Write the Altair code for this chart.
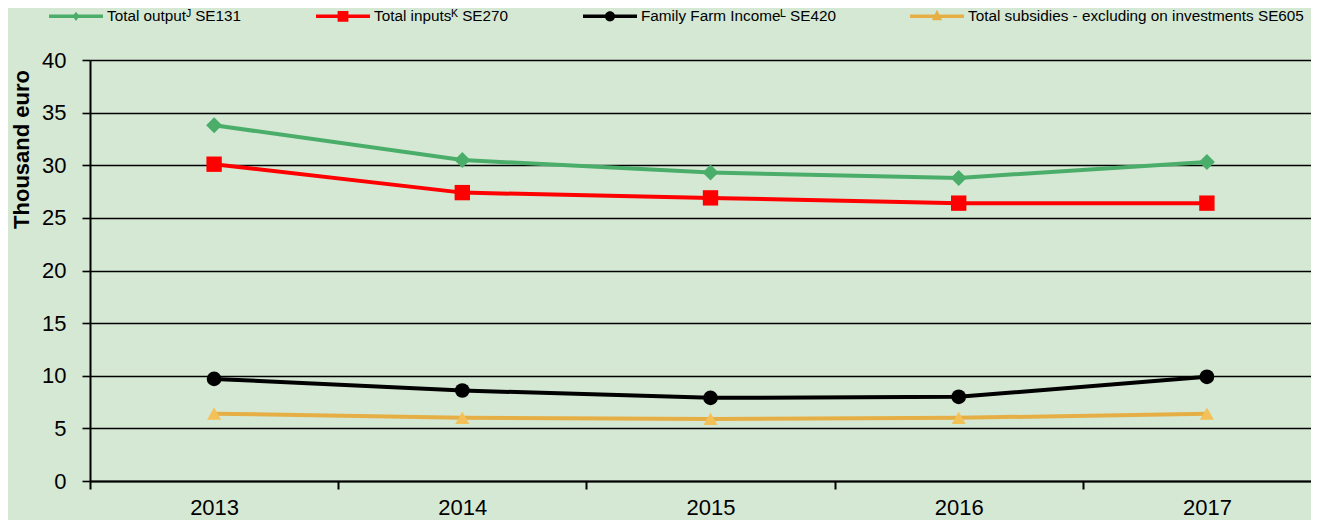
import altair as alt
import pandas as pd

years = ["2013", "2014", "2015", "2016", "2017"]
series_names = [
    "Total outputᴶ SE131",
    "Total inputsᴷ SE270",
    "Family Farm Incomeᴸ SE420",
    "Total subsidies - excluding on investments SE605",
]
total_output = [33.8, 30.5, 29.3, 28.8, 30.3]
total_inputs = [30.1, 27.4, 26.9, 26.4, 26.4]
family_farm_income = [9.7, 8.6, 7.9, 8.0, 9.9]
total_subsidies = [6.4, 6.0, 5.9, 6.0, 6.4]

line_colors = ["#4AAE6A", "#FF0000", "#000000", "#E5AF45"]
marker_colors = ["#4AAE6A", "#FF0000", "#000000", "#F3C157"]
marker_shapes = ["diamond", "square", "circle", "triangle-up"]
marker_sizes = [256, 196, 324, 361]

# legend symbols: line segment + marker
legend_shapes = [
    "M-1,-0.065L1,-0.065L1,0.065L-1,0.065Z M0,-0.17L0.13,0L0,0.17L-0.13,0Z",
    "M-1,-0.065L1,-0.065L1,0.065L-1,0.065Z M-0.2,-0.2L0.2,-0.2L0.2,0.2L-0.2,0.2Z",
    "M-1,-0.065L1,-0.065L1,0.065L-1,0.065Z M0.19,0A0.19,0.19 0 1,1 -0.19,0A0.19,0.19 0 1,1 0.19,0Z",
    "M-1,-0.065L1,-0.065L1,0.065L-1,0.065Z M0,-0.24L0.19,0.14L-0.19,0.14Z",
]

rows = []
for name, vals in zip(series_names, [total_output, total_inputs, family_farm_income, total_subsidies]):
    for y, v in zip(years, vals):
        rows.append({"year": y, "value": v, "series": name})
df = pd.DataFrame(rows)

FONT = "Liberation Sans"

x_enc = alt.X(
    "year:O",
    scale=alt.Scale(domain=years, range=[0, 1241], paddingInner=0, paddingOuter=0),
    axis=alt.Axis(
        title=None,
        tickBand="extent",
        labelAngle=0,
        labelFont=FONT,
        labelFontSize=22,
        labelColor="black",
        labelPadding=8,
        tickSize=8,
        tickColor="black",
        tickWidth=2,
        domainColor="black",
        domainWidth=2,
        grid=False,
    ),
)
y_enc = alt.Y(
    "value:Q",
    scale=alt.Scale(domain=[0, 40], nice=False, zero=True),
    axis=alt.Axis(
        values=[0, 5, 10, 15, 20, 25, 30, 35, 40],
        grid=True,
        gridColor="black",
        gridWidth=1.6,
        domainColor="black",
        domainWidth=2,
        tickColor="black",
        tickWidth=1.6,
        tickSize=8,
        labelFont=FONT,
        labelFontSize=22,
        labelColor="black",
        labelPadding=16,
        title="Thousand euro",
        titleFont=FONT,
        titleFontWeight="bold",
        titleFontSize=22,
        titleColor="black",
        titleAngle=270,
        titleAlign="center",
        titleBaseline="middle",
        titleX=-68.5,
        titleY=89,
    ),
)

lines = alt.Chart(df).mark_line(strokeWidth=4).encode(
    x=x_enc,
    y=y_enc,
    color=alt.Color("series:N", scale=alt.Scale(domain=series_names, range=line_colors), legend=None),
)

points = alt.Chart(df).mark_point(filled=True, opacity=1).encode(
    x=x_enc,
    y=y_enc,
    color=alt.Color("series:N", scale=alt.Scale(domain=series_names, range=marker_colors), legend=None),
    shape=alt.Shape("series:N", scale=alt.Scale(domain=series_names, range=marker_shapes), legend=None),
    size=alt.Size("series:N", scale=alt.Scale(domain=series_names, range=marker_sizes), legend=None),
)

# legend-only layer: no rows drawn, scale domains are explicit so the legend lists every series
legend_layer = alt.Chart(df).transform_filter("datum.value < -1000").mark_point(filled=True, opacity=1).encode(
    x=x_enc,
    y=y_enc,
    color=alt.Color(
        "series:N",
        scale=alt.Scale(domain=series_names, range=line_colors),
        legend=alt.Legend(
            title=None,
            orient="none",
            legendX=-41,
            legendY=-71,
            direction="horizontal",
            columns=4,
            columnPadding=74,
            labelOffset=4,
            labelFont=FONT,
            labelFontSize=15.3,
            labelColor="black",
            labelLimit=0,
            symbolSize=2916,
            symbolOpacity=1,
            symbolStrokeWidth=0,
            padding=0,
        ),
    ),
    shape=alt.Shape("series:N", scale=alt.Scale(domain=series_names, range=legend_shapes)),
)

chart = (
    alt.layer(lines, points, legend_layer)
    .resolve_scale(color="independent", shape="independent", size="independent")
    .properties(
        width=1221,
        height=421,
        background="#D5E8D4",
        padding={"left": 82, "top": 52, "right": 0, "bottom": 39},
        autosize=alt.AutoSizeParams(type="none"),
    )
    .configure_view(stroke=None)
)

chart.save("out.html", embed_options={"renderer": "svg", "actions": False})
